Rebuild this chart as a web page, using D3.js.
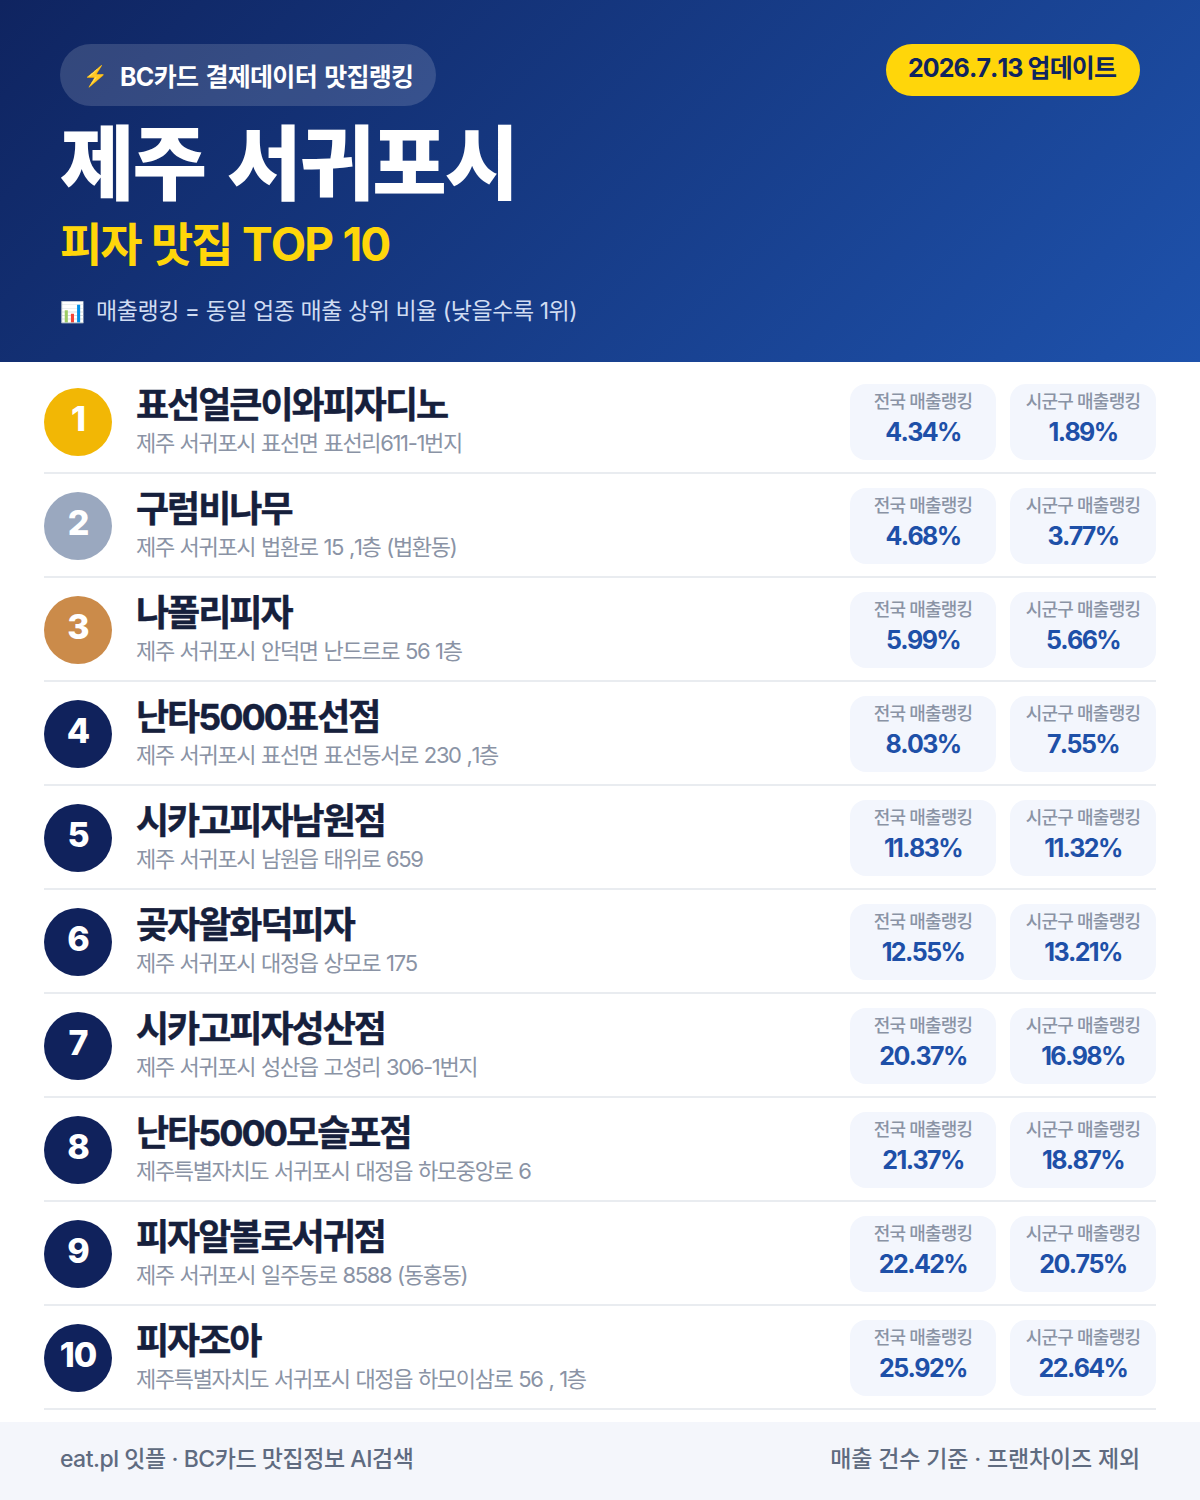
<!DOCTYPE html>
<html lang="ko">
<head>
<meta charset="utf-8">
<script src="https://cdn.jsdelivr.net/npm/d3@7"></script>
<style>
	html, body { margin: 0; padding: 0; background: #fff; }
	svg { display: block; }
	text { font-family: Inter, "Noto Sans CJK KR", "Noto Sans", sans-serif; font-kerning: none; }
</style>
</head>
<body>
<div id="graphic"></div>
<script>
const names = ['표선얼큰이와피자디노', '구럼비나무', '나폴리피자', '난타5000표선점', '시카고피자남원점', '곶자왈화덕피자', '시카고피자성산점', '난타5000모슬포점', '피자알볼로서귀점', '피자조아'];
const addresses = [
	'제주 서귀포시 표선면 표선리611-1번지',
	'제주 서귀포시 법환로 15 ,1층 (법환동)',
	'제주 서귀포시 안덕면 난드르로 56 1층',
	'제주 서귀포시 표선면 표선동서로 230 ,1층',
	'제주 서귀포시 남원읍 태위로 659',
	'제주 서귀포시 대정읍 상모로 175',
	'제주 서귀포시 성산읍 고성리 306-1번지',
	'제주특별자치도 서귀포시 대정읍 하모중앙로 6',
	'제주 서귀포시 일주동로 8588 (동홍동)',
	'제주특별자치도 서귀포시 대정읍 하모이삼로 56 , 1층'
];
const nationalRank = [4.34, 4.68, 5.99, 8.03, 11.83, 12.55, 20.37, 21.37, 22.42, 25.92];
const districtRank = [1.89, 3.77, 5.66, 7.55, 11.32, 13.21, 16.98, 18.87, 20.75, 22.64];
const medalColours = ['#f2b705', '#9aa8bf', '#cb8b4a'];

const width = 1200, height = 1500;
const svg = d3.select('#graphic').append('svg').attr('width', width).attr('height', height);

const defs = svg.append('defs');
const grad = defs.append('linearGradient').attr('id', 'headerGrad')
	.attr('gradientUnits', 'userSpaceOnUse')
	.attr('x1', 210).attr('y1', -210).attr('x2', 990).attr('y2', 572);
grad.append('stop').attr('offset', '0%').attr('stop-color', '#0f2460');
grad.append('stop').attr('offset', '100%').attr('stop-color', '#1e52ac');

//header
svg.append('rect').attr('width', width).attr('height', 362).attr('fill', 'url(#headerGrad)');
svg.append('rect').attr('x', 60).attr('y', 44).attr('width', 376).attr('height', 62).attr('rx', 31)
	.attr('fill', '#fff').attr('fill-opacity', 0.15);
svg.append('text').attr('x', 83).attr('y', 83).attr('font-size', 20).text('⚡');
svg.append('text').attr('x', 120).attr('y', 86).attr('font-size', 25).attr('font-weight', 700)
	.attr('letter-spacing', -0.7).attr('word-spacing', 2).attr('fill', '#fff').text('BC카드 결제데이터 맛집랭킹');
svg.append('rect').attr('x', 886).attr('y', 44).attr('width', 254).attr('height', 52).attr('rx', 26).attr('fill', '#ffd60a');
svg.append('text').attr('x', 1012).attr('y', 77).attr('text-anchor', 'middle').attr('font-size', 25).attr('font-weight', 700)
	.attr('letter-spacing', -0.9).attr('fill', '#0f2460').text('2026.7.13 업데이트');
svg.append('text').attr('x', 60).attr('y', 193).attr('font-size', 81).attr('font-weight', 900)
	.attr('letter-spacing', -2).attr('word-spacing', 8).attr('fill', '#fff').text('제주 서귀포시');
svg.append('text').attr('x', 60).attr('y', 261).attr('font-size', 46).attr('font-weight', 700)
	.attr('letter-spacing', -2).attr('word-spacing', 1.5).attr('fill', '#ffd60a').text('피자 맛집 TOP 10');
svg.append('text').attr('x', 60).attr('y', 319).attr('font-size', 20).text('📊');
svg.append('text').attr('x', 96).attr('y', 319).attr('font-size', 23).attr('font-weight', 400)
	.attr('letter-spacing', -0.45).attr('fill', '#d0dcf2').text('매출랭킹 = 동일 업종 매출 상위 비율 (낮을수록 1위)');

//rows
const y = d3.scalePoint().domain(d3.range(names.length)).range([422, 1358]);
const rows = svg.selectAll('g.row').data(names).join('g').attr('class', 'row')
	.attr('transform', (d, i) => `translate(0,${y(i)})`);

rows.append('line').attr('x1', 44).attr('x2', 1156).attr('y1', 51).attr('y2', 51)
	.attr('stroke', '#e9ecf0').attr('stroke-width', 2);
rows.append('circle').attr('cx', 78).attr('r', 34)
	.attr('fill', (d, i) => medalColours[i] || '#10225c');
rows.append('text').attr('x', 78).attr('y', 9).attr('text-anchor', 'middle')
	.attr('font-size', 34).attr('font-weight', 800).attr('letter-spacing', -1).attr('fill', '#fff')
	.text((d, i) => i + 1);
rows.append('text').attr('x', 136).attr('y', -4).attr('font-size', 36).attr('font-weight', 700)
	.attr('letter-spacing', -2).attr('fill', '#16203c').attr('stroke', '#16203c').attr('stroke-width', 0.4)
	.text(d => d);
rows.append('text').attr('x', 136).attr('y', 29).attr('font-size', 22).attr('font-weight', 400)
	.attr('letter-spacing', -1.35).attr('word-spacing', 1).attr('fill', '#8a93a5').text((d, i) => addresses[i]);

const cards = [
	{ x: 850, label: '전국 매출랭킹', values: nationalRank },
	{ x: 1010, label: '시군구 매출랭킹', values: districtRank }
];
cards.forEach(card => {
	rows.append('rect').attr('x', card.x).attr('y', -38).attr('width', 146).attr('height', 76).attr('rx', 16).attr('fill', '#f3f6fd');
	rows.append('text').attr('x', card.x + 73).attr('y', -14).attr('text-anchor', 'middle')
		.attr('font-size', 18).attr('font-weight', 500).attr('letter-spacing', -0.8).attr('fill', '#8a93a5').text(card.label);
	rows.append('text').attr('x', card.x + 73).attr('y', 19).attr('text-anchor', 'middle')
		.attr('font-size', 25).attr('font-weight', 700).attr('letter-spacing', -1.6).attr('fill', '#1e50a8')
		.text((d, i) => card.values[i].toFixed(2) + '%');
});

//footer
svg.append('rect').attr('y', 1422).attr('width', width).attr('height', 78).attr('fill', '#f4f6fb');
svg.append('text').attr('x', 60).attr('y', 1467).attr('font-size', 23).attr('font-weight', 500)
	.attr('letter-spacing', -0.45).attr('fill', '#5f6b80').text('eat.pl 잇플 · BC카드 맛집정보 AI검색');
svg.append('text').attr('x', 1140).attr('y', 1467).attr('text-anchor', 'end').attr('font-size', 23).attr('font-weight', 500)
	.attr('letter-spacing', -0.15).attr('fill', '#5f6b80').text('매출 건수 기준 · 프랜차이즈 제외');
</script>
</body>
</html>
